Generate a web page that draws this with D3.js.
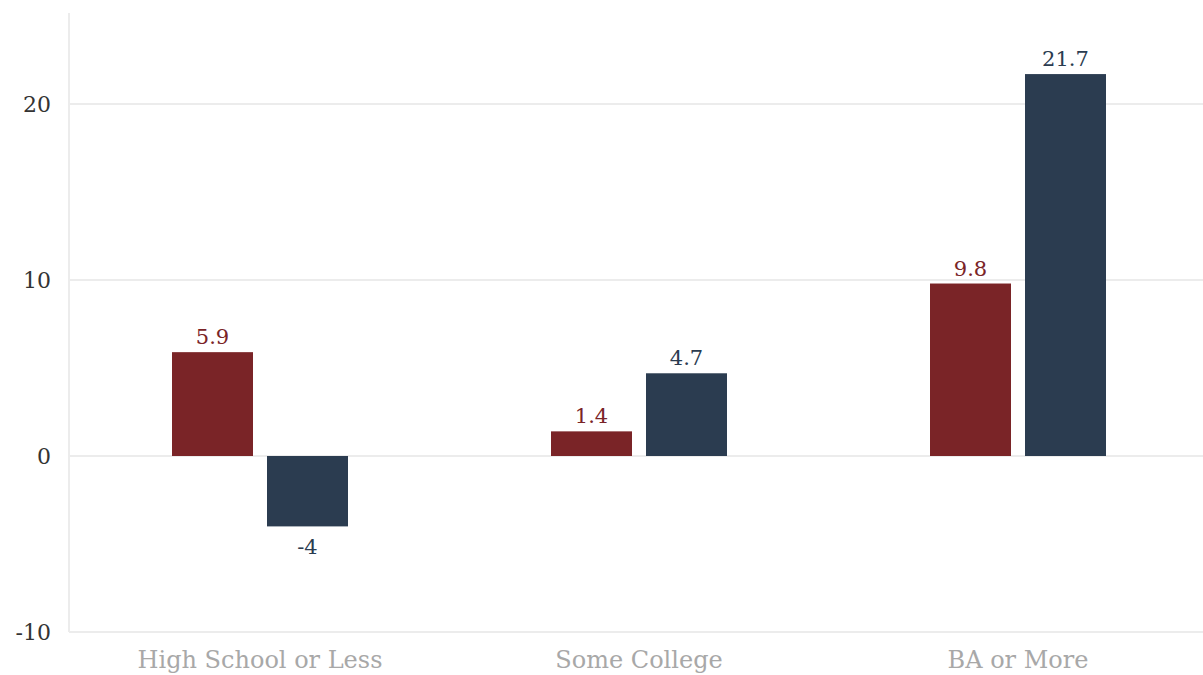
<!doctype html>
<html lang="en">
<head>
  <meta charset="utf-8">
  <title>Education</title>
  <style>
    body { margin: 0; background: #fff; }
    svg { display: block; }
    .grid line { stroke: #ececec; stroke-width: 2; }
    .tick-label { font-family: "DejaVu Serif", serif; font-size: 22px; fill: #333; }
    .cat-label { font-family: "DejaVu Serif", serif; font-size: 24px; fill: #a8a8a8; }
    .val-label { font-family: "DejaVu Serif", serif; font-size: 21px; }
  </style>
</head>
<body>
  <div id="chart"></div>
  <script src="https://cdn.jsdelivr.net/npm/d3@7"></script>
  <script>
(function(){

  var categories = ["High School or Less", "Some College", "BA or More"];
  var seriesA = [5.9, 1.4, 9.8];   // red
  var seriesB = [-4, 4.7, 21.7];   // navy
  var yTicks = [-10, 0, 10, 20];

  var width = 1203, height = 675;
  var colors = ["#7a2427", "#2b3c50"];

  var svg = d3.select("#chart").append("svg")
      .attr("width", width)
      .attr("height", height);

  var y = d3.scaleLinear().domain([-10, 25]).range([632, 16]);
  var x = d3.scaleBand().domain(categories).range([70.5, 1207.5]).paddingInner(0).paddingOuter(0);

  // gridlines
  svg.append("g").attr("class", "grid")
    .selectAll("line").data(yTicks).enter().append("line")
      .attr("x1", 69).attr("x2", width)
      .attr("y1", function(d){ return y(d); })
      .attr("y2", function(d){ return y(d); });

  // left axis line
  svg.append("line")
    .attr("x1", 69).attr("x2", 69)
    .attr("y1", 13).attr("y2", 632)
    .attr("stroke", "#ececec").attr("stroke-width", 2);

  // y tick labels
  svg.selectAll(".tick-label").data(yTicks).enter().append("text")
    .attr("class", "tick-label")
    .attr("x", 51)
    .attr("y", function(d){ return y(d); })
    .attr("dy", "0.35em")
    .attr("text-anchor", "end")
    .text(function(d){ return d; });

  // category labels
  svg.selectAll(".cat-label").data(categories).enter().append("text")
    .attr("class", "cat-label")
    .attr("x", function(d){ return x(d) + x.bandwidth()/2; })
    .attr("y", 668)
    .attr("text-anchor", "middle")
    .text(function(d){ return d; });

  var barW = 81, gap = 14;
  var series = [seriesA, seriesB];

  series.forEach(function(vals, si){
    var offset = si === 0 ? -(gap/2 + barW) : gap/2;
    var g = svg.append("g");
    g.selectAll("rect").data(vals).enter().append("rect")
      .attr("x", function(d, i){ return x(categories[i]) + x.bandwidth()/2 + offset; })
      .attr("width", barW)
      .attr("y", function(d){ return y(Math.max(0, d)); })
      .attr("height", function(d){ return Math.abs(y(d) - y(0)); })
      .attr("fill", colors[si]);

    g.selectAll("text").data(vals).enter().append("text")
      .attr("class", "val-label")
      .attr("x", function(d, i){ return x(categories[i]) + x.bandwidth()/2 + offset + barW/2; })
      .attr("y", function(d){ return d >= 0 ? y(d) - 8 : y(d) + 28; })
      .attr("text-anchor", "middle")
      .attr("fill", colors[si])
      .text(function(d){ return d; });
  });

})();
  </script>
</body>
</html>
